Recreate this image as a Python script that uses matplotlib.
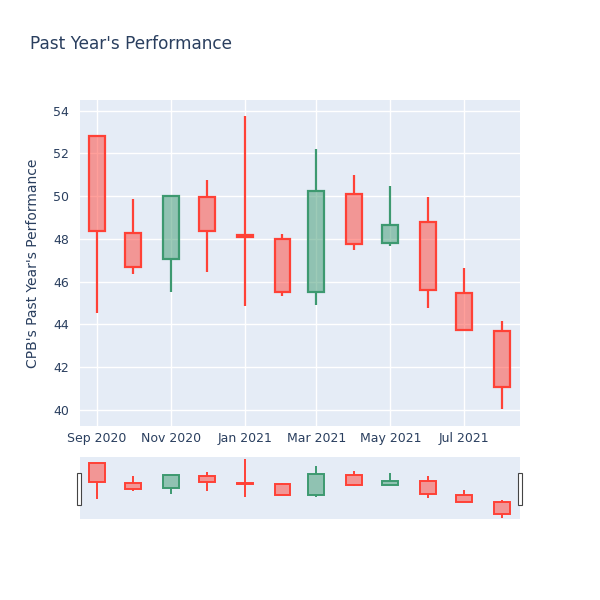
import numpy as np
import pandas as pd
import matplotlib
matplotlib.use("Agg")
import matplotlib.pyplot as plt
import matplotlib.dates as mdates
from matplotlib.patches import Rectangle

# monthly candles for CPB
dates = pd.date_range("2020-09-01", periods=12, freq="MS")
opens = [52.8, 48.3, 47.07, 49.97, 48.2, 48.0, 45.5, 50.1, 47.8, 48.8, 45.48, 43.7]
highs = [52.85, 49.88, 50.0, 50.77, 53.77, 48.24, 52.2, 51.0, 50.49, 49.97, 46.65, 44.17]
lows = [44.54, 46.37, 45.53, 46.46, 44.87, 45.34, 44.9, 47.5, 47.68, 44.78, 43.75, 40.05]
closes = [48.38, 46.7, 50.0, 48.38, 48.1, 45.5, 50.25, 47.77, 48.66, 45.62, 43.75, 41.08]

inc_line = "#3D9970"
dec_line = "#FF4136"
bg = "#E5ECF6"
txt = "#2a3f5f"

x = mdates.date2num(dates)
opens = np.array(opens)
closes = np.array(closes)
highs = np.array(highs)
lows = np.array(lows)
up = closes >= opens
lines = [inc_line if u else dec_line for u in up]
fills = [matplotlib.colors.to_rgba(c, 0.5) for c in lines]
lo_body = np.minimum(opens, closes)
hi_body = np.maximum(opens, closes)


def draw_candles(ax, lw):
    ax.vlines(x, lows, lo_body, colors=lines, linewidth=lw, zorder=2)
    ax.vlines(x, hi_body, highs, colors=lines, linewidth=lw, zorder=2)
    ax.bar(x, np.maximum(hi_body - lo_body, 0.08), width=13, bottom=lo_body,
           color=fills, edgecolor=lines, linewidth=lw, zorder=3)


fig = plt.figure(figsize=(6, 6), dpi=100)
fig.patch.set_facecolor("white")

ax = fig.add_axes([80 / 600, 1 - 426 / 600, 440 / 600, 326 / 600])
ax.set_facecolor(bg)
draw_candles(ax, 1.6)
x0 = mdates.date2num(pd.Timestamp("2020-08-18"))
x1 = mdates.date2num(pd.Timestamp("2021-08-16"))
ax.set_xlim(x0, x1)
ax.set_ylim(39.25, 54.5)
ax.set_yticks(np.arange(40, 55, 2))
ax.xaxis.set_major_locator(mdates.MonthLocator(bymonth=[1, 3, 5, 7, 9, 11]))
ax.xaxis.set_major_formatter(mdates.DateFormatter("%b %Y"))
ax.grid(True, color="white", linewidth=1)
ax.set_axisbelow(True)
for s in ax.spines.values():
    s.set_visible(False)
ax.tick_params(length=0, labelsize=9, colors=txt, pad=4)
ax.tick_params(axis="y", pad=8)
ax.set_ylabel("CPB's Past Year's Performance", fontsize=10, color=txt, labelpad=9)

# range slider
rs = fig.add_axes([80 / 600, 1 - 519 / 600, 440 / 600, 62 / 600])
rs.set_facecolor(bg)
draw_candles(rs, 1.4)
rs.set_xlim(x0, x1)
rs.set_ylim(39.8, 54.3)
rs.set_xticks([])
rs.set_yticks([])
for s in rs.spines.values():
    s.set_visible(False)
for hx in [77, 518]:
    fig.patches.append(Rectangle((hx / 600, 1 - 505 / 600), 4 / 600, 32 / 600,
                                 transform=fig.transFigure, facecolor="white",
                                 edgecolor="#444444", linewidth=0.8))

fig.text(30 / 600, 1 - 44 / 600, "Past Year's Performance", fontsize=12.2,
         color=txt, va="center", ha="left")

fig.savefig("out.png", dpi=100)
